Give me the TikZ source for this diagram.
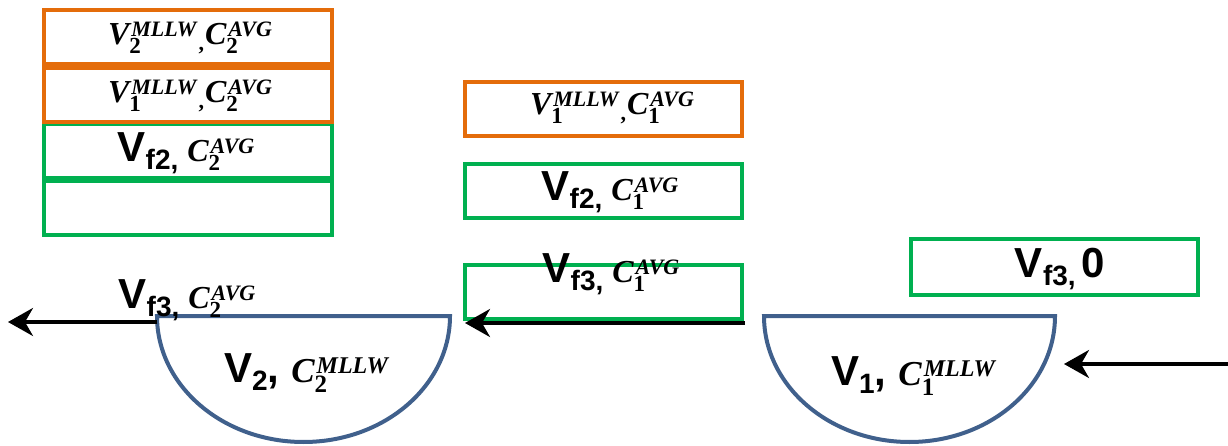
\documentclass[tikz,border=0pt]{standalone}
\usepackage{fontspec}
\setmainfont{Liberation Sans}
\newfontfamily\varfont{Liberation Serif}
\usetikzlibrary{arrows.meta}

\definecolor{boxorange}{RGB}{228,108,10}
\definecolor{boxgreen}{RGB}{0,176,80}
\definecolor{tankblue}{RGB}{64,96,140}

% pieces of the labels
\newcommand\bigV{{\fontsize{42}{44}\selectfont\bfseries V}}
\newcommand\bigtxt[1]{{\fontsize{42}{44}\selectfont\bfseries #1}}
\newcommand\lowsub[1]{\raisebox{-8pt}{\fontsize{28}{28}\selectfont\bfseries #1}}
% italic variable letter with a subscript digit and a superscript tag
\newcommand\ivar[3]{{\varfont\bfseries
  {\fontsize{32}{32}\selectfont\itshape #1}%
  \rlap{\raisebox{-9pt}{\fontsize{23}{23}\selectfont\upshape #2}}%
  \raisebox{8pt}{\fontsize{22}{22}\selectfont\itshape\hspace{2pt}#3}}}
% the same, somewhat larger, for the tank labels
\newcommand\tvar[3]{{\varfont\bfseries
  {\fontsize{35}{35}\selectfont\itshape #1}%
  \rlap{\raisebox{-10pt}{\fontsize{25}{25}\selectfont\upshape #2}}%
  \raisebox{9pt}{\fontsize{24}{24}\selectfont\itshape\hspace{2pt}#3}}}
\newcommand\cvar[2]{\ivar{C}{#1}{#2}}
\newcommand\vvar[2]{\ivar{V}{#1}{#2}}
\newcommand\lowcomma{\hspace{2pt}\raisebox{-6pt}{\varfont\fontsize{22}{22}\selectfont\bfseries ,}\hspace{1pt}}
\newcommand\gap{\hspace{9pt}}

\tikzset{
  orangebox/.style={draw=boxorange, line width=4pt, minimum width=288pt, minimum height=54pt, inner sep=0pt},
  greenbox/.style={draw=boxgreen, line width=4pt, minimum width=288pt, minimum height=54pt, inner sep=0pt},
  midbox/.style={minimum width=277pt},
  label/.style={inner sep=0pt, font=\bfseries},
  tank/.style={draw=tankblue, line width=4pt},
  flow/.style={draw=black, line width=3.5pt, -{Stealth[length=25pt,width=28pt,inset=8pt]}},
}

\begin{document}
\begin{tikzpicture}[x=1pt, y=-1pt]
\useasboundingbox (0,0) rectangle (1228,446);

% left column of storage boxes
\node[greenbox] (g4) at (188,208.5) {};
\node[greenbox] (g3) at (188,151) {};
\node[orangebox] (o2) at (188,95) {};
\node[orangebox] (o1) at (188,37) {};

% middle column
\node[orangebox, midbox] (mo1) at (603,109) {};
\node[greenbox, midbox] (mg2) at (603,191) {};
\node[greenbox, midbox] (mg3) at (603,292) {};

% right box
\node[greenbox, minimum width=287pt, minimum height=56pt] (rg3) at (1054.5,267) {};

% tanks (half ellipses)
\draw[tank] (157,316) arc[start angle=180, end angle=0, x radius=146.5, y radius=126] -- cycle;
\draw[tank] (764,316) arc[start angle=180, end angle=0, x radius=145.5, y radius=126] -- cycle;

% labels
\node[label] (t1) at (190,38) {\vvar{2}{MLLW}\lowcomma\cvar{2}{AVG}};
\node[label] (t2) at (190,96) {\vvar{1}{MLLW}\lowcomma\cvar{2}{AVG}};
\node[label] (t3) at (186,153) {\bigV\lowsub{f2,}\gap\cvar{2}{AVG}};
\node[label] (t4) at (612,108) {\vvar{1}{MLLW}\lowcomma\cvar{1}{AVG}};
\node[label] (t5) at (610,192) {\bigV\lowsub{f2,}\gap\cvar{1}{AVG}};
\node[label] (t6) at (611,274) {\bigV\lowsub{f3,}\gap\cvar{1}{AVG}};
\node[label] (t7) at (187,300) {\bigV\lowsub{f3,}\gap\cvar{2}{AVG}};
\node[label] (t8) at (306,373) {\bigV\lowsub{2}\bigtxt{,}\hspace{12pt}\tvar{C}{2}{MLLW}};
\node[label] (t9) at (913,376) {\bigV\lowsub{1}\bigtxt{,}\hspace{12pt}\tvar{C}{1}{MLLW}};
\node[label] (t10) at (1060,269) {\bigV\lowsub{f3,}\hspace{6pt}\bigtxt{0}};

% flows
\coordinate (outL) at (8,322);
\coordinate (midR) at (745,323);
\coordinate (midL) at (465,323);
\coordinate (inR) at (1228,364);
\coordinate (inTip) at (1064,364);
\coordinate (tank2L) at (157,322);
\draw[flow] (tank2L) -- (outL);
\draw[flow] (midR) -- (midL);
\draw[flow] (inR) -- (inTip);
\end{tikzpicture}
\end{document}
